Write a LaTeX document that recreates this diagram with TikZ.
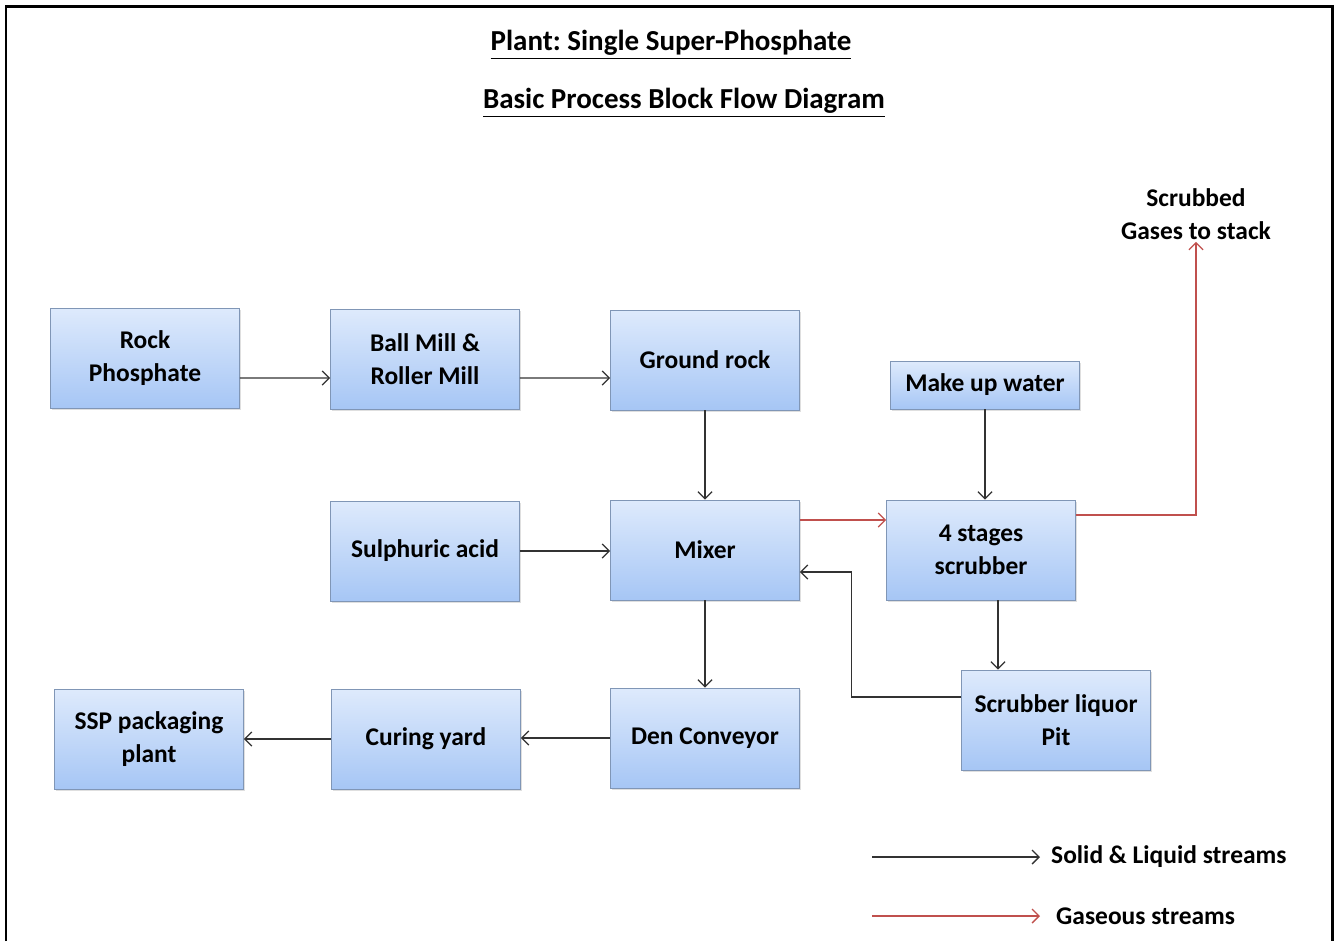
\documentclass[tikz,border=0pt]{standalone}
\usepackage{fontspec}
\setmainfont{Carlito}
\frenchspacing
\usetikzlibrary{arrows.meta,positioning,calc,shadows}

\definecolor{boxtop}{RGB}{222,234,252}
\definecolor{boxbot}{RGB}{166,198,245}
\definecolor{boxline}{RGB}{128,150,182}
\definecolor{solidline}{RGB}{50,50,50}
\definecolor{gasline}{RGB}{192,80,77}

\begin{document}
\begin{tikzpicture}[
    x=0.02cm, y=-0.02cm,
    block/.style={rectangle, draw=boxline, thin, top color=boxtop, bottom color=boxbot,
        minimum width=3.78cm, minimum height=2cm, align=center, font=\fontsize{14.5}{19}\selectfont\bfseries,
        drop shadow={opacity=0.25, shadow xshift=1pt, shadow yshift=-1.2pt}},
    flow/.style={draw=solidline, line width=0.75pt},
    gas/.style={draw=gasline, line width=0.75pt},
    label/.style={font=\fontsize{14.5}{19}\selectfont\bfseries, align=center},
    title/.style={font=\fontsize{16.5}{20}\selectfont\bfseries},
    >={Straight Barb[length=4pt,width=8pt]}
]
\useasboundingbox (0,0) rectangle (1336,941);
\draw[line width=1.7pt] (6,941) -- (6,6) -- (1332,6) -- (1332,941);

% titles
\node[title] (t1) at (671,45) {\underline{Plant: Single Super-Phosphate}};
\node[title] (t2) at (684,103) {\underline{Basic Process Block Flow Diagram}};

% blocks
\node[block] (rock) at (145,358) {Rock\\Phosphate};
\node[block] (ball) at (425,359) {Ball Mill \&\\Roller Mill};
\node[block] (ground) at (705,360) {Ground rock};
\node[block, minimum height=0.96cm] (water) at (985,385) {Make up water};
\node[block] (acid) at (425,551) {Sulphuric acid};
\node[block] (mixer) at (705,550) {Mixer};
\node[block] (scrub) at (981,550) {4 stages\\scrubber};
\node[block] (pit) at (1056,720) {Scrubber liquor\\Pit};
\node[block] (ssp) at (149,739) {SSP packaging\\plant};
\node[block] (yard) at (426,739) {Curing yard};
\node[block] (den) at (705,738) {Den Conveyor};
\node[label, inner sep=1pt] (stack) at (1196,214) {Scrubbed\\Gases to stack};

% solid and liquid streams
\draw[flow,->] ([yshift=-0.4cm]rock.east) -- (ball.west |- 0,378);
\draw[flow,->] ([yshift=-0.38cm]ball.east) -- (ground.west |- 0,378);
\draw[flow,->] (ground) -- (mixer);
\draw[flow,->] (acid.east) -- (mixer.west |- acid.east);
\draw[flow,->] (water.south) -- (water.south |- scrub.north);
\draw[flow,->] ([xshift=0.34cm]scrub.south) -- ([xshift=0.34cm]scrub.south |- pit.north);
\draw[flow,->] ([yshift=0.46cm]pit.west) -- ++(-110,0) |- ([yshift=-0.44cm]mixer.east);
\draw[flow,->] (mixer) -- (den);
\draw[flow,->] (den.west) -- (yard.east |- den.west);
\draw[flow,->] (yard) -- (ssp);

% gaseous streams
\draw[gas,->] ([yshift=0.6cm]mixer.east) -- ([yshift=0.6cm]scrub.west);
\draw[gas,->] ([yshift=0.7cm]scrub.east) -| (stack.south);

% legend
\coordinate (s1) at (872,857);
\coordinate (s2) at (1040,857);
\coordinate (g1) at (872,916);
\coordinate (g2) at (1040,916);
\draw[flow,->] (s1) -- (s2);
\draw[gas,->] (g1) -- (g2);
\node[label, anchor=west] (slab) at (1045,857) {Solid \& Liquid streams};
\node[label, anchor=west] (glab) at (1050,916) {Gaseous streams};
\end{tikzpicture}
\end{document}
